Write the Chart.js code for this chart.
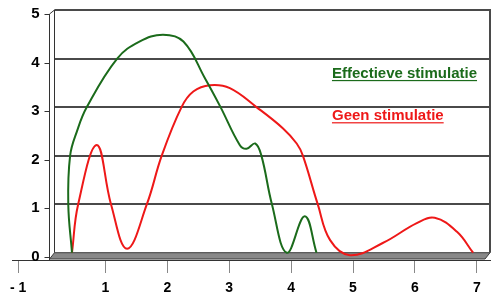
<!DOCTYPE html>
<html><head><meta charset="utf-8">
<script src="https://cdn.jsdelivr.net/npm/chart.js@4/dist/chart.umd.min.js"></script>
<style>html,body{margin:0;padding:0;background:#fff;overflow:hidden}</style>
</head><body>
<canvas id="c" width="501" height="305"></canvas>
<script>
// ---- data ----
const seriesNames = ['Effectieve stimulatie', 'Geen stimulatie'];
const greenX = [0.46, 0.40, 0.43, 0.54, 0.70, 1.19, 1.55, 1.93, 2.26, 2.61, 2.86, 3.17, 3.28, 3.42, 3.52, 3.69, 3.93, 4.22, 4.41];
const greenY = [0.00, 1.00, 2.00, 2.50, 3.00, 4.00, 4.35, 4.49, 4.35, 3.59, 3.00, 2.22, 2.14, 2.25, 2.00, 1.00, 0.00, 0.75, 0.00];
const redX = [0.46, 0.56, 0.86, 1.09, 1.35, 1.67, 1.91, 2.23, 2.42, 2.69, 3.01, 3.44, 3.87, 4.09, 4.19, 4.43, 4.63, 4.95, 5.48, 6.03, 6.32, 6.68, 6.94];
const redY = [0.00, 1.00, 2.22, 1.00, 0.08, 1.00, 2.00, 3.00, 3.32, 3.45, 3.39, 3.00, 2.56, 2.25, 2.00, 1.00, 0.26, -0.05, 0.20, 0.61, 0.72, 0.43, 0.00];
const xTickValues = [-1, 1, 2, 3, 4, 5, 6, 7];
const xTickLabels = ['- 1', '1', '2', '3', '4', '5', '6', '7'];
const yTickValues = [0, 1, 2, 3, 4, 5];
const yTickLabels = ['0', '1', '2', '3', '4', '5'];

// ---- styling / layout ----
const GREEN = '#1b6b1b', RED = '#ee1818';
const FONT = "'Liberation Sans', Arial, sans-serif";
const X_MIN = -0.509, X_MAX = 7.213;
const BROKEN_TICK_POS = -0.41;   // where the "- 1" label sits (axis break)
const Y_LABELS_AT = -0.065;      // right edge of the y labels, on the x scale
const Y_AXIS_AT = 0.089;         // front vertical axis position on the x scale
const DEPTH_X = 5, DEPTH_Y = 4;  // 3D depth offset in px
const legendAnchors = [{x: 4.66, y: 3.6}, {x: 4.66, y: 2.73}];

const pts = (xs, ys) => xs.map((x, i) => ({x, y: ys[i]}));

const wallPlugin = {
  id: 'wall',
  beforeDatasetsDraw(chart) {
    const {ctx, chartArea: a, scales: {x, y}} = chart;
    const axisX = Math.round(x.getPixelForValue(Y_AXIS_AT)) + 0.5;
    const wallL = axisX + DEPTH_X;
    const y0 = y.getPixelForValue(0);
    ctx.save();
    // floor
    ctx.beginPath();
    ctx.moveTo(wallL, y0);
    ctx.lineTo(a.right, y0);
    ctx.lineTo(a.right - DEPTH_X, a.bottom - 1);
    ctx.lineTo(axisX, a.bottom - 1);
    ctx.closePath();
    ctx.fillStyle = '#888888';
    ctx.fill();
    ctx.strokeStyle = '#3a3a3a';
    ctx.lineWidth = 1;
    ctx.stroke();
    // gridlines on back wall
    ctx.strokeStyle = '#4a4a4a';
    ctx.lineWidth = 2;
    yTickValues.forEach(v => {
      if (v === 0) return;
      const py = Math.round(y.getPixelForValue(v));
      ctx.beginPath();
      ctx.moveTo(wallL, py);
      ctx.lineTo(a.right, py);
      ctx.stroke();
    });
    // right wall edge
    ctx.beginPath();
    ctx.moveTo(a.right, a.top - 1);
    ctx.lineTo(a.right, y0);
    ctx.stroke();
    // left wall edge + front axis
    ctx.lineWidth = 1;
    ctx.strokeStyle = '#333';
    ctx.beginPath();
    ctx.moveTo(wallL, a.top);
    ctx.lineTo(wallL, y0);
    ctx.moveTo(axisX, a.top + DEPTH_Y);
    ctx.lineTo(wallL, a.top);
    ctx.moveTo(axisX, a.top + DEPTH_Y);
    ctx.lineTo(axisX, a.bottom);
    yTickValues.forEach(v => {
      const py = Math.round(y.getPixelForValue(v)) + DEPTH_Y + 0.5;
      ctx.moveTo(axisX - 5, py);
      ctx.lineTo(axisX, py);
    });
    ctx.stroke();
    ctx.restore();
  },
  afterDatasetsDraw(chart) {
    const {ctx, scales: {x, y}} = chart;
    const cols = [GREEN, RED];
    ctx.save();
    ctx.font = 'bold 15px ' + FONT;
    ctx.textBaseline = 'alphabetic';
    seriesNames.forEach((name, i) => {
      const px = x.getPixelForValue(legendAnchors[i].x);
      const py = y.getPixelForValue(legendAnchors[i].y);
      ctx.fillStyle = cols[i];
      ctx.fillText(name, px, py);
      const w = ctx.measureText(name).width;
      ctx.fillRect(px, py + 2, w, 1.2);
    });
    ctx.restore();
  }
};

new Chart(document.getElementById('c'), {
  type: 'line',
  data: {
    datasets: [
      {label: seriesNames[0], data: pts(greenX, greenY), borderColor: GREEN, borderWidth: 2, pointRadius: 0, tension: 0.4, fill: false},
      {label: seriesNames[1], data: pts(redX, redY), borderColor: RED, borderWidth: 2, pointRadius: 0, tension: 0.4, fill: false}
    ]
  },
  options: {
    responsive: false,
    animation: false,
    devicePixelRatio: 1,
    layout: {padding: {left: 12, right: 11, top: 10, bottom: 0}},
    plugins: {legend: {display: false}, tooltip: {enabled: false}},
    scales: {
      x: {
        type: 'linear', min: X_MIN, max: X_MAX,
        afterBuildTicks: s => { s.ticks = xTickValues.map(v => ({value: v < 0 ? BROKEN_TICK_POS : v})); },
        afterFit: s => { s.height = 45; s.paddingLeft = 0; s.paddingRight = 0; },
        grid: {drawOnChartArea: false, drawTicks: true, tickLength: 13, color: '#888', lineWidth: 1},
        border: {display: true, color: '#333', width: 1},
        ticks: {
          autoSkip: false, maxRotation: 0, padding: 7, color: '#000',
          font: {family: FONT, size: 14, weight: 'bold'},
          callback: (v, i) => xTickLabels[i]
        }
      },
      y: {
        type: 'linear', min: -0.15, max: 5,
        position: {x: Y_LABELS_AT},
        afterBuildTicks: s => { s.ticks = yTickValues.map(v => ({value: v})); },
        afterFit: s => { s.paddingTop = 0; s.paddingBottom = 0; },
        grid: {drawOnChartArea: false, drawTicks: false},
        border: {display: false},
        ticks: {
          padding: 0, labelOffset: 4, color: '#000',
          font: {family: FONT, size: 15, weight: 'bold'},
          callback: (v, i) => yTickLabels[i]
        }
      }
    }
  },
  plugins: [wallPlugin]
});
</script>
</body></html>
